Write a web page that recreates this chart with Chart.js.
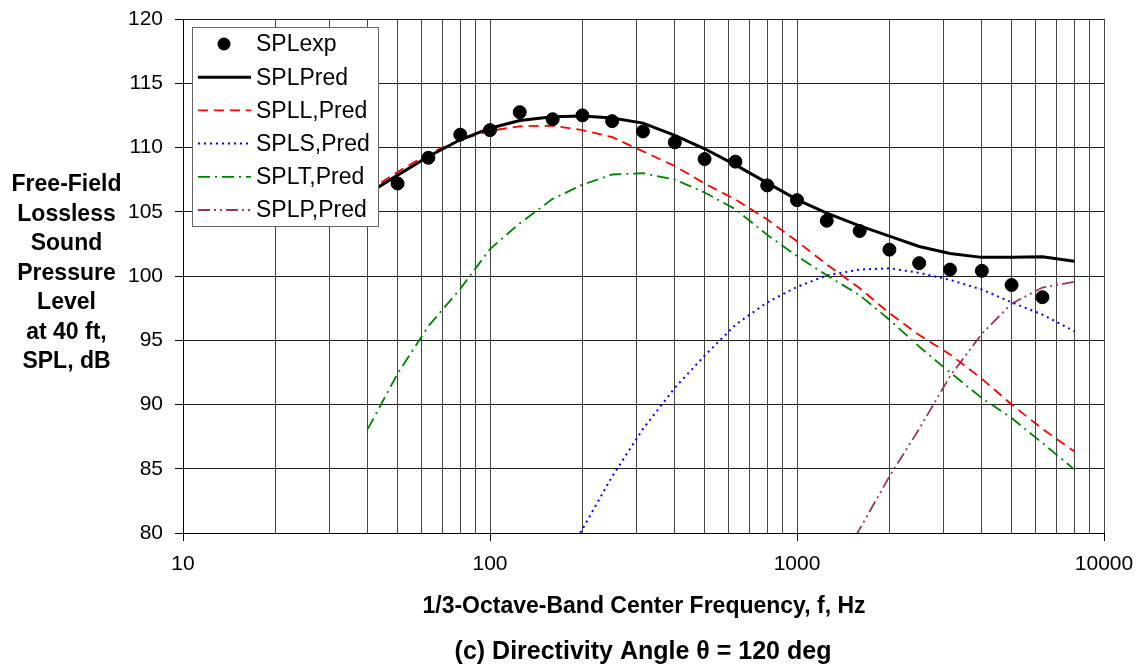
<!DOCTYPE html>
<html>
<head>
<meta charset="utf-8">
<title>SPL vs frequency - directivity 120 deg</title>
<script src="https://cdn.jsdelivr.net/npm/chart.js"></script>
<style>
  html, body { margin: 0; padding: 0; background: #fff; }
  canvas { display: block; }
</style>
</head>
<body>
<canvas id="splChart" width="1141" height="671"></canvas>
<script>
/* ---------- DATA ---------- */
// 1/3-octave band centre frequencies used by the predicted curves, Hz
const bandFreqs = [40, 50, 63, 80, 100, 125, 160, 200, 250, 315, 400, 500,
  630, 800, 1000, 1250, 1600, 2000, 2500, 3150, 4000, 5000, 6300, 8000];
// frequencies of the measured points, Hz
const expFreqs = [50, 63, 80, 100, 125, 160, 200, 250, 315, 400, 500,
  630, 800, 1000, 1250, 1600, 2000, 2500, 3150, 4000, 5000, 6300];

const splExp = [107.2, 109.2, 111.0, 111.35, 112.75, 112.2, 112.5, 112.05, 111.25, 110.4, 109.1,
  108.9, 107.05, 105.9, 104.3, 103.5, 102.05, 101.0, 100.5, 100.4, 99.3, 98.35];
const splPred = [106.4, 107.85, 109.3, 110.6, 111.5, 112.1, 112.4, 112.45, 112.3, 111.9, 110.95, 109.9,
  108.65, 107.25, 105.95, 104.9, 103.9, 103.1, 102.3, 101.75, 101.45, 101.45, 101.5, 101.15];
const splLPred = [106.6, 108.1, 109.5, 110.6, 111.3, 111.65, 111.7, 111.35, 110.8, 109.7, 108.55, 107.2,
  105.95, 104.4, 102.7, 100.9, 99.05, 97.1, 95.4, 93.9, 92.0, 90.0, 88.1, 86.35];
const splSPred = [null, null, null, null, null, null, 76.4, 80.3, 84.4, 88.1, 91.3, 93.8,
  96.2, 97.95, 99.15, 100.05, 100.5, 100.6, 100.25, 99.7, 98.95, 97.95, 97.0, 95.7];
const splTPred = [88.1, 92.4, 96.1, 99.0, 102.1, 104.1, 106.0, 107.1, 107.9, 108.0, 107.5, 106.5,
  105.2, 103.2, 101.55, 100.05, 98.5, 96.6, 94.5, 92.5, 90.5, 88.95, 87.0, 84.95];
const splPPred = [null, null, null, null, null, null, null, null, null, null, null, null,
  null, null, null, 76.0, 80.3, 84.4, 88.1, 92.2, 95.5, 97.85, 99.1, 99.55];

// axis ticks
const xGridTicks = [10, 20, 30, 40, 50, 60, 70, 80, 90,
  100, 200, 300, 400, 500, 600, 700, 800, 900,
  1000, 2000, 3000, 4000, 5000, 6000, 7000, 8000, 9000, 10000];
const xLabelTicks = [10, 100, 1000, 10000];
const yMin = 80, yMax = 120, yStep = 5;

const yTitleLines = ['Free-Field', 'Lossless', 'Sound', 'Pressure', 'Level', 'at 40 ft,', 'SPL, dB'];
const xTitle = '1/3-Octave-Band Center Frequency, f, Hz';
const subTitle = '(c) Directivity Angle \u03b8 = 120 deg';

/* ---------- HELPERS ---------- */
const FONT = "'Liberation Sans', Arial, sans-serif";
const pts = (xs, ys) => xs.map((f, i) => ({ x: f, y: ys[i] }));

function lineSet(label, values, color, width, dash) {
  return {
    label,
    data: pts(bandFreqs, values),
    borderColor: color,
    backgroundColor: color,
    borderWidth: width,
    borderDash: dash,
    pointRadius: 0,
    fill: false,
    tension: 0,
    spanGaps: false
  };
}

/* ---------- DECORATION (legend + titles) ---------- */
const decor = {
  id: 'decor',
  afterDatasetsDraw(chart) {
    const ctx = chart.ctx;
    ctx.save();
    ctx.fillStyle = '#fff';
    ctx.fillRect(192, 27, 186, 199);
    ctx.strokeStyle = '#666';
    ctx.lineWidth = 1;
    ctx.setLineDash([]);
    ctx.strokeRect(192.5, 27.5, 186, 199);

    ctx.font = '23px ' + FONT;
    ctx.textBaseline = 'middle';
    ctx.textAlign = 'left';
    chart.data.datasets.forEach((ds, i) => {
      const y = 44 + i * 33.2;
      if (ds.showLine === false) {
        ctx.fillStyle = ds.backgroundColor;
        ctx.beginPath();
        ctx.arc(224, y, 6.5, 0, Math.PI * 2);
        ctx.fill();
      } else {
        ctx.strokeStyle = ds.borderColor;
        ctx.lineWidth = ds.borderWidth;
        ctx.setLineDash(ds.borderDash || []);
        ctx.beginPath();
        ctx.moveTo(198, y);
        ctx.lineTo(251, y);
        ctx.stroke();
        ctx.setLineDash([]);
      }
      ctx.fillStyle = '#000';
      ctx.fillText(ds.label, 256, y + 1);
    });
    ctx.restore();
  },
  afterDraw(chart) {
    const ctx = chart.ctx;
    ctx.save();
    ctx.fillStyle = '#000';
    ctx.textAlign = 'center';
    ctx.textBaseline = 'middle';
    ctx.font = 'bold 23px ' + FONT;
    yTitleLines.forEach((t, i) => ctx.fillText(t, 66.5, 185 + i * 29.5));
    ctx.fillText(xTitle, 644, 607);
    ctx.font = 'bold 25px ' + FONT;
    ctx.fillText(subTitle, 643, 652);
    ctx.restore();
  }
};

/* ---------- CHART ---------- */
new Chart(document.getElementById('splChart'), {
  type: 'line',
  data: {
    datasets: [
      {
        label: 'SPLexp',
        data: pts(expFreqs, splExp),
        showLine: false,
        pointRadius: 6.5,
        pointBackgroundColor: '#000',
        pointBorderColor: '#000',
        backgroundColor: '#000',
        borderColor: '#000'
      },
      lineSet('SPLPred', splPred, '#000000', 3, []),
      lineSet('SPLL,Pred', splLPred, '#ff0000', 1.8, [10, 6]),
      lineSet('SPLS,Pred', splSPred, '#0000ff', 2, [2, 4]),
      lineSet('SPLT,Pred', splTPred, '#008000', 1.8, [12, 5, 2, 5]),
      lineSet('SPLP,Pred', splPPred, '#993366', 1.8, [12, 4, 2, 4, 2, 4])
    ]
  },
  options: {
    responsive: false,
    animation: false,
    devicePixelRatio: 1,
    layout: { padding: { left: 0, top: 19, right: 37, bottom: 0 } },
    plugins: {
      legend: { display: false },
      tooltip: { enabled: false },
      title: { display: false }
    },
    scales: {
      x: {
        type: 'logarithmic',
        min: 10,
        max: 10000,
        afterBuildTicks: s => { s.ticks = xGridTicks.map(v => ({ value: v })); },
        afterFit: s => { s.height = 138; },
        border: { color: '#000', width: 1 },
        grid: {
          color: '#444',
          lineWidth: 1,
          tickLength: 8,
          tickColor: c => (xLabelTicks.includes(c.tick && c.tick.value) ? '#000' : 'rgba(0,0,0,0)')
        },
        ticks: {
          autoSkip: false,
          maxRotation: 0,
          padding: 6,
          color: '#000',
          font: { family: FONT, size: 21, lineHeight: 1.62 },
          callback: v => (xLabelTicks.includes(v) ? String(v) : '')
        }
      },
      y: {
        min: yMin,
        max: yMax,
        afterFit: s => { s.width = 183; },
        border: { color: '#000', width: 1 },
        grid: { color: '#222', lineWidth: 1, tickLength: 8, tickColor: '#000' },
        ticks: {
          stepSize: yStep,
          padding: 12,
          color: '#000',
          font: { family: FONT, size: 21, lineHeight: 0.6 }
        }
      }
    }
  },
  plugins: [decor]
});
</script>
</body>
</html>
